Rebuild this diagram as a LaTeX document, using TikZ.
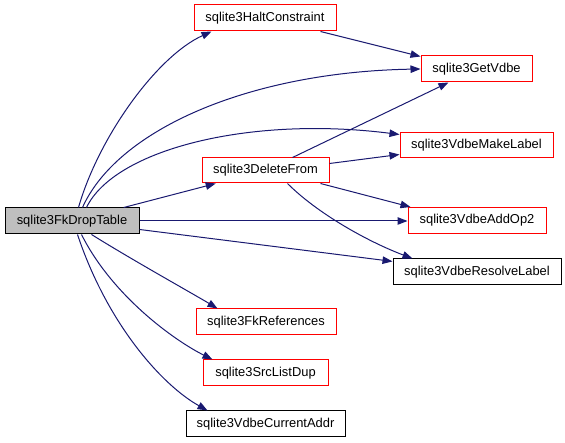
\documentclass[tikz,border=0pt]{standalone}
\usepackage{fontspec}
\setmainfont{Liberation Sans}
\usetikzlibrary{arrows.meta,calc}
\definecolor{edgeblue}{HTML}{191970}
\definecolor{boxgrey}{HTML}{BFBFBF}
\tikzset{
  fnbox/.style={draw=black, line width=1pt, rectangle, inner sep=0pt, minimum height=26pt, font=\fontsize{12.9}{14}\selectfont, fill=white},
  redbox/.style={fnbox, draw=red},
  mainbox/.style={fnbox, fill=boxgrey},
  edge/.style={draw=edgeblue, line width=1pt, -{Triangle[length=10pt,width=7.5pt]}, fill=none},
}
\begin{document}
\begin{tikzpicture}[x=1pt,y=-1pt]
\useasboundingbox (0,0) rectangle (565,443);
\node[mainbox, minimum width=134pt] (f) at (72,221) {sqlite3FkDropTable};
\node[redbox, minimum width=142pt] (h) at (265,18) {sqlite3HaltConstraint};
\node[redbox, minimum width=111pt] (g) at (476.5,69) {sqlite3GetVdbe};
\node[redbox, minimum width=153pt, minimum height=25pt] (m) at (476.5,145.5) {sqlite3VdbeMakeLabel};
\node[redbox, minimum width=138pt] (a) at (477,220.5) {sqlite3VdbeAddOp2};
\node[fnbox, minimum width=168pt] (r) at (477,272) {sqlite3VdbeResolveLabel};
\node[redbox, minimum width=127pt, minimum height=25pt] (d) at (265.5,170.5) {sqlite3DeleteFrom};
\node[redbox, minimum width=140pt] (k) at (266,322) {sqlite3FkReferences};
\node[redbox, minimum width=125pt] (s) at (265.5,373) {sqlite3SrcListDup};
\node[fnbox, minimum width=159pt] (c) at (265.5,424) {sqlite3VdbeCurrentAddr};

% from FkDropTable
\draw[edge] ([xshift=74pt]f.north west) .. controls +(20,-70) and +(-55,25) .. ([xshift=18pt]h.south west);
\draw[edge] ([xshift=78pt]f.north west) .. controls +(35,-78) and +(-171,3) .. (g.west);
\draw[edge] ([xshift=82pt]f.north west) .. controls +(28,-58) and +(-150,-19) .. ([yshift=-2pt]m.north west);
\draw[edge] (f) -- (d);
\draw[edge] (f.east) -- (f.east -| a.west);
\draw[edge] (f) -- (r);
\draw[edge] ([xshift=87pt]f.south west) .. controls +(40,25) and +(-25,-15) .. ([xshift=22pt]k.north west);
\draw[edge] ([xshift=77pt]f.south west) .. controls +(30,60) and +(-40,-20) .. ([xshift=10pt]s.north west);
\draw[edge] ([xshift=73pt]f.south west) .. controls +(30,90) and +(-45,-25) .. ([xshift=22pt]c.north west);

% from DeleteFrom
\draw[edge] (d) -- (g);
\draw[edge] ([yshift=7pt]d.east) -- ([yshift=-9pt]m.west);
\draw[edge] ([xshift=-9pt]d.south east) -- ([xshift=3pt]a.north west);
\draw[edge] ([xshift=22pt]d.south) .. controls +(30,30) and +(-45,-17) .. ([xshift=20pt]r.north west);

% from HaltConstraint
\draw[edge] ([xshift=-16pt]h.south east) -- ([yshift=-1pt]g.north west);
\end{tikzpicture}
\end{document}
